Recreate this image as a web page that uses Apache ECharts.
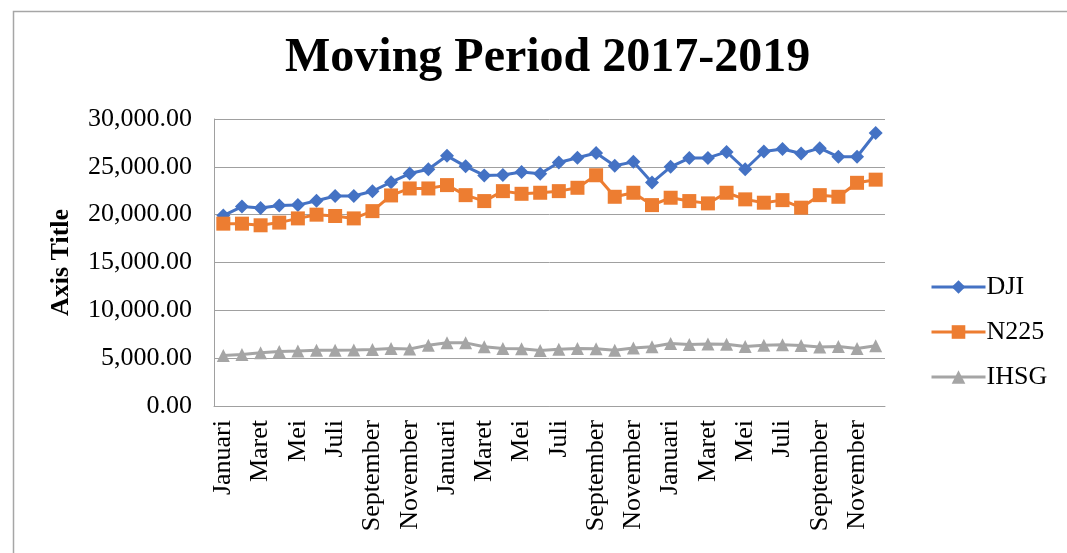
<!DOCTYPE html>
<html>
<head>
<meta charset="utf-8">
<script src="https://cdn.jsdelivr.net/npm/echarts@6/dist/echarts.min.js"></script>
<style>
  html, body { margin: 0; padding: 0; background: #fff; }
  #main { width: 1067px; height: 553px; }
</style>
</head>
<body>
<div id="main"></div>
<script>
const months = ['Januari', 'Februari', 'Maret', 'April', 'Mei', 'Juni', 'Juli', 'Agustus', 'September', 'Oktober', 'November', 'Desember']
const categories = [].concat(months, months, months)

const dji = [19900, 20850, 20700, 20950, 21000, 21450, 21950, 21950, 22450, 23400, 24300, 24750,
  26150, 25050, 24100, 24150, 24450, 24280, 25450, 25950, 26450, 25120, 25520, 23350,
  25000, 25920, 25930, 26560, 24750, 26600, 26870, 26400, 26950, 26050, 26050, 28540]
const n225 = [19060, 19060, 18890, 19170, 19610, 20000, 19860, 19610, 20370, 22010, 22740, 22740,
  23090, 22040, 21420, 22460, 22180, 22290, 22460, 22810, 24120, 21870, 22290, 21000,
  21770, 21420, 21180, 22290, 21600, 21250, 21520, 20730, 22040, 21870, 23330, 23660]
const ihsg = [5290, 5390, 5570, 5690, 5740, 5830, 5840, 5860, 5900, 6010, 5950, 6360,
  6610, 6600, 6190, 6000, 5980, 5800, 5940, 6020, 5980, 5830, 6060, 6190,
  6530, 6440, 6470, 6460, 6210, 6360, 6390, 6330, 6170, 6230, 6010, 6300]

const font = 'Liberation Serif'
const gridColor = '#a0a0a0'

let chart = echarts.init(document.getElementById('main'))

const option = {
  animation: false,
  textStyle: { fontFamily: font, color: '#000' },
  graphic: [{
    type: 'rect',
    shape: { x: 13.5, y: 11.5, width: 1200, height: 700 },
    style: { fill: 'none', stroke: '#a6a6a6', lineWidth: 1.5 },
    silent: true
  }],
  title: {
    text: 'Moving Period 2017-2019',
    left: 280,
    top: 30,
    textStyle: { fontFamily: font, fontSize: 48, fontWeight: 'bold', color: '#000' }
  },
  legend: {
    orient: 'vertical',
    left: 925,
    top: 269,
    itemWidth: 54,
    itemHeight: 17,
    itemGap: 19,
    lineStyle: { width: 3 },
    textStyle: { fontFamily: font, fontSize: 26, lineHeight: 26, color: '#000', padding: [0, 0, 0, -4] },
    data: ['DJI', 'N225', 'IHSG']
  },
  grid: { left: 214, top: 119, right: 182, bottom: 147, containLabel: false },
  xAxis: {
    type: 'category',
    data: categories,
    boundaryGap: true,
    axisLine: { lineStyle: { color: gridColor, width: 1 } },
    axisTick: { show: false },
    axisLabel: {
      interval: 1,
      rotate: 90,
      margin: 14,
      fontFamily: font,
      fontSize: 26,
      color: '#000'
    }
  },
  yAxis: {
    type: 'value',
    min: 0,
    max: 30000,
    interval: 5000,
    name: 'Axis Title',
    nameLocation: 'middle',
    nameGap: 140,
    nameRotate: 90,
    nameTextStyle: { fontFamily: font, fontSize: 26, fontWeight: 'bold', color: '#000' },
    axisLine: { show: true, lineStyle: { color: gridColor, width: 1 } },
    axisTick: { show: false },
    splitLine: { lineStyle: { color: gridColor, width: 1 } },
    axisLabel: {
      margin: 22,
      fontFamily: font,
      fontSize: 26,
      color: '#000',
      formatter: v => v.toLocaleString('en-US', { minimumFractionDigits: 2, maximumFractionDigits: 2 })
    }
  },
  series: [
    {
      name: 'DJI',
      type: 'line',
      data: dji,
      symbol: 'diamond',
      symbolSize: 14,
      showAllSymbol: true,
      lineStyle: { width: 3, color: '#4472C4' },
      itemStyle: { color: '#4472C4' }
    },
    {
      name: 'N225',
      type: 'line',
      data: n225,
      symbol: 'rect',
      symbolSize: 14,
      showAllSymbol: true,
      lineStyle: { width: 3, color: '#ED7D31' },
      itemStyle: { color: '#ED7D31' }
    },
    {
      name: 'IHSG',
      type: 'line',
      data: ihsg,
      symbol: 'triangle',
      symbolSize: 13,
      showAllSymbol: true,
      lineStyle: { width: 3, color: '#A5A5A5' },
      itemStyle: { color: '#A5A5A5' }
    }
  ]
}

chart.setOption(option)
</script>
</body>
</html>
